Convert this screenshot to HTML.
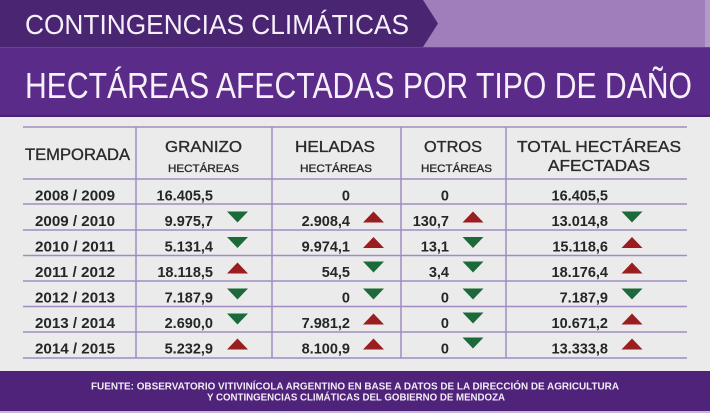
<!DOCTYPE html>
<html><head><meta charset="utf-8"><style>
html,body{margin:0;padding:0;background:#ebebeb;}
svg{display:block;}
</style></head><body>
<svg width="710" height="413" viewBox="0 0 710 413" xmlns="http://www.w3.org/2000/svg">
<rect x="0" y="0" width="710" height="413" fill="#ebebeb"/>
<rect x="0" y="0" width="710" height="47" fill="#a07ebb"/>
<rect x="705" y="0" width="5" height="47" fill="#b39acb"/>
<polygon points="0,0 423,0 438,23.5 423,47 0,47" fill="#4a2572"/>
<rect x="0" y="47" width="710" height="70" fill="#5b2b89"/>
<rect x="0" y="47" width="710" height="1" fill="#6c3f99"/>
<rect x="0" y="115" width="710" height="2" fill="#4b2176"/>
<rect x="0" y="371" width="710" height="40" fill="#4f237a"/>
<rect x="0" y="411" width="710" height="2" fill="#c8b8d8"/>
<g font-family="Liberation Sans, sans-serif" fill="#f6f0fa">
<text x="25" y="34" font-size="28" textLength="384" lengthAdjust="spacingAndGlyphs">CONTINGENCIAS CLIMÁTICAS</text>
<text x="25" y="98" font-size="36" textLength="667" lengthAdjust="spacingAndGlyphs">HECTÁREAS AFECTADAS POR TIPO DE DAÑO</text>
</g>
<g stroke="#a08cc0" stroke-width="1.5" fill="none">
<line x1="23" y1="127" x2="687" y2="127"/>
<line x1="23" y1="179" x2="687" y2="179"/>
<line x1="23" y1="204" x2="687" y2="204"/>
<line x1="23" y1="230" x2="687" y2="230"/>
<line x1="23" y1="255.5" x2="687" y2="255.5"/>
<line x1="23" y1="281" x2="687" y2="281"/>
<line x1="23" y1="306.5" x2="687" y2="306.5"/>
<line x1="23" y1="332" x2="687" y2="332"/>
<line x1="23" y1="358" x2="687" y2="358"/>
<line x1="136" y1="127" x2="136" y2="358"/>
<line x1="272" y1="127" x2="272" y2="358"/>
<line x1="401" y1="127" x2="401" y2="358"/>
<line x1="506" y1="127" x2="506" y2="358"/>
</g>
<g font-family="Liberation Sans, sans-serif" fill="#2b2b2b" stroke="#2b2b2b" stroke-width="0.35">
<text x="25" y="160" font-size="16.5" textLength="105" lengthAdjust="spacingAndGlyphs">TEMPORADA</text>
<text x="165" y="152" font-size="15.5" textLength="77" lengthAdjust="spacingAndGlyphs">GRANIZO</text>
<text x="168" y="172" font-size="11" textLength="71" lengthAdjust="spacingAndGlyphs">HECTÁREAS</text>
<text x="295" y="152" font-size="15.5" textLength="80" lengthAdjust="spacingAndGlyphs">HELADAS</text>
<text x="300" y="172" font-size="11" textLength="72" lengthAdjust="spacingAndGlyphs">HECTÁREAS</text>
<text x="424" y="152" font-size="15.5" textLength="58" lengthAdjust="spacingAndGlyphs">OTROS</text>
<text x="421" y="172" font-size="11" textLength="71" lengthAdjust="spacingAndGlyphs">HECTÁREAS</text>
<text x="517" y="152" font-size="15.5" textLength="164" lengthAdjust="spacingAndGlyphs">TOTAL HECTÁREAS</text>
<text x="548" y="171" font-size="15.5" textLength="102" lengthAdjust="spacingAndGlyphs">AFECTADAS</text>
</g>
<g font-family="Liberation Sans, sans-serif" font-weight="bold" font-size="14.5" fill="#262626">
<g>
<text x="35" y="200.5" textLength="80" lengthAdjust="spacingAndGlyphs">2008 / 2009</text>
<text x="35" y="226" textLength="80" lengthAdjust="spacingAndGlyphs">2009 / 2010</text>
<text x="35" y="251.5" textLength="80" lengthAdjust="spacingAndGlyphs">2010 / 2011</text>
<text x="35" y="277" textLength="80" lengthAdjust="spacingAndGlyphs">2011 / 2012</text>
<text x="35" y="302.5" textLength="80" lengthAdjust="spacingAndGlyphs">2012 / 2013</text>
<text x="35" y="328" textLength="80" lengthAdjust="spacingAndGlyphs">2013 / 2014</text>
<text x="35" y="353.5" textLength="80" lengthAdjust="spacingAndGlyphs">2014 / 2015</text>
</g>
<g text-anchor="end">
<text x="213" y="200.5">16.405,5</text>
<text x="213" y="226">9.975,7</text>
<text x="213" y="251.5">5.131,4</text>
<text x="213" y="277">18.118,5</text>
<text x="213" y="302.5">7.187,9</text>
<text x="213" y="328">2.690,0</text>
<text x="213" y="353.5">5.232,9</text>

<text x="350" y="200.5">0</text>
<text x="350" y="226">2.908,4</text>
<text x="350" y="251.5">9.974,1</text>
<text x="350" y="277">54,5</text>
<text x="350" y="302.5">0</text>
<text x="350" y="328">7.981,2</text>
<text x="350" y="353.5">8.100,9</text>

<text x="449" y="200.5">0</text>
<text x="449" y="226">130,7</text>
<text x="449" y="251.5">13,1</text>
<text x="449" y="277">3,4</text>
<text x="449" y="302.5">0</text>
<text x="449" y="328">0</text>
<text x="449" y="353.5">0</text>

<text x="608" y="200.5">16.405,5</text>
<text x="608" y="226">13.014,8</text>
<text x="608" y="251.5">15.118,6</text>
<text x="608" y="277">18.176,4</text>
<text x="608" y="302.5">7.187,9</text>
<text x="608" y="328">10.671,2</text>
<text x="608" y="353.5">13.333,8</text>
</g>
</g>
<defs>
<polygon id="up" points="-10.5,5.5 10.5,5.5 0,-5.5" fill="#9a1d1f"/>
<polygon id="dn" points="-10.5,-5.5 10.5,-5.5 0,5.5" fill="#1c6a3a"/>
</defs>
<!-- row2 y center 217 -->
<use href="#dn" x="237.5" y="217"/>
<use href="#up" x="373.5" y="217"/>
<use href="#up" x="473" y="217"/>
<use href="#dn" x="632" y="217"/>
<!-- row3 center 242.5 -->
<use href="#dn" x="237.5" y="242.5"/>
<use href="#up" x="373.5" y="242.5"/>
<use href="#dn" x="473" y="242.5"/>
<use href="#up" x="632" y="242.5"/>
<!-- row4 center 268 -->
<use href="#up" x="237.5" y="268"/>
<use href="#dn" x="373.5" y="267"/>
<use href="#dn" x="473" y="267"/>
<use href="#up" x="632" y="268"/>
<!-- row5 center 293.5 -->
<use href="#dn" x="237.5" y="294"/>
<use href="#dn" x="373.5" y="294"/>
<use href="#dn" x="473" y="294"/>
<use href="#dn" x="632" y="294"/>
<!-- row6 center 319 -->
<use href="#dn" x="237.5" y="319"/>
<use href="#up" x="373.5" y="319"/>
<use href="#dn" x="473" y="318"/>
<use href="#up" x="632" y="319"/>
<!-- row7 center 344 -->
<use href="#up" x="237.5" y="344"/>
<use href="#up" x="373.5" y="344"/>
<use href="#dn" x="473" y="343"/>
<use href="#up" x="632" y="344"/>
<g font-family="Liberation Sans, sans-serif" font-weight="bold" font-size="10.5" fill="#f3ecf8">
<text x="91" y="389.5" textLength="528" lengthAdjust="spacingAndGlyphs">FUENTE: OBSERVATORIO VITIVINÍCOLA ARGENTINO EN BASE A DATOS DE  LA DIRECCIÓN DE AGRICULTURA</text>
<text x="207" y="400.5" textLength="298" lengthAdjust="spacingAndGlyphs">Y CONTINGENCIAS CLIMÁTICAS DEL GOBIERNO DE MENDOZA</text>
</g>
</svg>
</body></html>
